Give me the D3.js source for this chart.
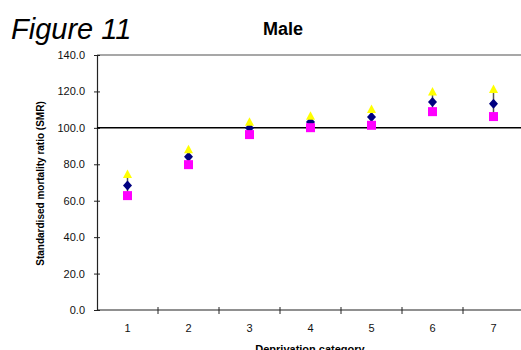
<!DOCTYPE html>
<html>
<head>
<meta charset="utf-8">
<script src="https://cdn.jsdelivr.net/npm/d3@7"></script>
<style>
  html, body { margin: 0; padding: 0; background: #fff; }
  svg { display: block; font-family: "Liberation Sans", Arial, sans-serif; }
</style>
</head>
<body>
<svg id="chart" width="521" height="350"></svg>
<script>
// Deprivation categories and standardised mortality ratios (males)
const categories = [1, 2, 3, 4, 5, 6, 7];
const smr        = [68.3, 84.2, 99.9, 103.2, 106.0, 114.2, 113.3];
const upperCI    = [74.7, 88.2, 103.4, 106.7, 110.4, 119.9, 121.4];
const lowerCI    = [62.8, 79.8, 96.3, 100.1, 101.4, 108.9, 106.2];
const yTicks     = [0, 20, 40, 60, 80, 100, 120, 140];
const referenceSMR = 100;

const svg = d3.select("#chart");

const plot = { left: 97, right: 524, top: 55, bottom: 310 };

const x = d3.scaleBand()
  .domain(categories)
  .range([plot.left, plot.right]);

const y = d3.scaleLinear()
  .domain([0, 140])
  .range([plot.bottom, plot.top]);

// Figure label and title
svg.append("text")
  .attr("x", 11).attr("y", 39)
  .attr("font-size", 29).attr("font-style", "italic")
  .text("Figure 11");

svg.append("text")
  .attr("x", 283).attr("y", 35)
  .attr("text-anchor", "middle")
  .attr("font-size", 18).attr("font-weight", "bold")
  .text("Male");

// Top border of the plot area
svg.append("line")
  .attr("x1", plot.left).attr("x2", 521)
  .attr("y1", y(140)).attr("y2", y(140))
  .attr("stroke", "#8a8a8a").attr("stroke-width", 1.5);

// Y axis
const yAxis = d3.axisLeft(y)
  .tickValues(yTicks)
  .tickFormat(d3.format(".1f"))
  .tickSizeInner(3)
  .tickSizeOuter(0)
  .tickPadding(9);

const gy = svg.append("g")
  .attr("transform", `translate(${plot.left},0)`)
  .call(yAxis);
gy.select(".domain").attr("stroke", "#222").attr("stroke-width", 1.2);
gy.selectAll(".tick line").attr("x2", 3).attr("x1", -3).attr("stroke", "#222");
gy.selectAll(".tick text").attr("font-size", 11).attr("fill", "#111")
  .attr("font-family", "Liberation Sans, Arial, sans-serif");

// X axis with ticks between categories
const gx = svg.append("g")
  .attr("transform", `translate(0,${plot.bottom})`);
gx.append("line")
  .attr("x1", plot.left).attr("x2", plot.right)
  .attr("stroke", "#222").attr("stroke-width", 1.2);
gx.selectAll(".xtick")
  .data(categories.slice(1))
  .join("line")
  .attr("class", "xtick")
  .attr("x1", d => x(d)).attr("x2", d => x(d))
  .attr("y1", -3).attr("y2", 4)
  .attr("stroke", "#222");
gx.selectAll(".xlabel")
  .data(categories)
  .join("text")
  .attr("class", "xlabel")
  .attr("x", d => x(d) + x.bandwidth() / 2)
  .attr("y", 22)
  .attr("text-anchor", "middle")
  .attr("font-size", 11).attr("fill", "#111")
  .text(d => d);

// Axis titles
svg.append("text")
  .attr("x", 310).attr("y", 353)
  .attr("text-anchor", "middle")
  .attr("font-size", 11).attr("font-weight", "bold")
  .text("Deprivation category");

svg.append("text")
  .attr("transform", `translate(44,${(plot.top + plot.bottom) / 2 + 1}) rotate(-90)`)
  .attr("text-anchor", "middle")
  .attr("font-size", 10).attr("font-weight", "bold")
  .text("Standardised mortality ratio (SMR)");

// Reference line at SMR = 100
svg.append("line")
  .attr("x1", plot.left).attr("x2", 521)
  .attr("y1", y(referenceSMR)).attr("y2", y(referenceSMR))
  .attr("stroke", "#000").attr("stroke-width", 1.5);

const rows = categories.map((c, i) => ({ c, smr: smr[i], hi: upperCI[i], lo: lowerCI[i] }));
const cx = d => x(d.c) + x.bandwidth() / 2;

// Confidence interval bars
svg.selectAll(".ci")
  .data(rows)
  .join("line")
  .attr("class", "ci")
  .attr("x1", cx).attr("x2", cx)
  .attr("y1", d => y(d.hi)).attr("y2", d => y(d.lo))
  .attr("stroke", "#555").attr("stroke-width", 1.5);

// SMR point estimates
svg.selectAll(".smr")
  .data(rows)
  .join("path")
  .attr("class", "smr")
  .attr("d", "M0,-5L4.5,0L0,5L-4.5,0Z")
  .attr("transform", d => `translate(${cx(d)},${y(d.smr)})`)
  .attr("fill", "#000080");

// Upper limits
svg.selectAll(".upper")
  .data(rows)
  .join("path")
  .attr("class", "upper")
  .attr("d", "M0,-4.5L4.5,4L-4.5,4Z")
  .attr("transform", d => `translate(${cx(d)},${y(d.hi)})`)
  .attr("fill", "#ffff00");

// Lower limits
svg.selectAll(".lower")
  .data(rows)
  .join("rect")
  .attr("class", "lower")
  .attr("x", d => cx(d) - 4.5)
  .attr("y", d => y(d.lo) - 4.5)
  .attr("width", 9).attr("height", 9)
  .attr("fill", "#ff00ff");
</script>
</body>
</html>
